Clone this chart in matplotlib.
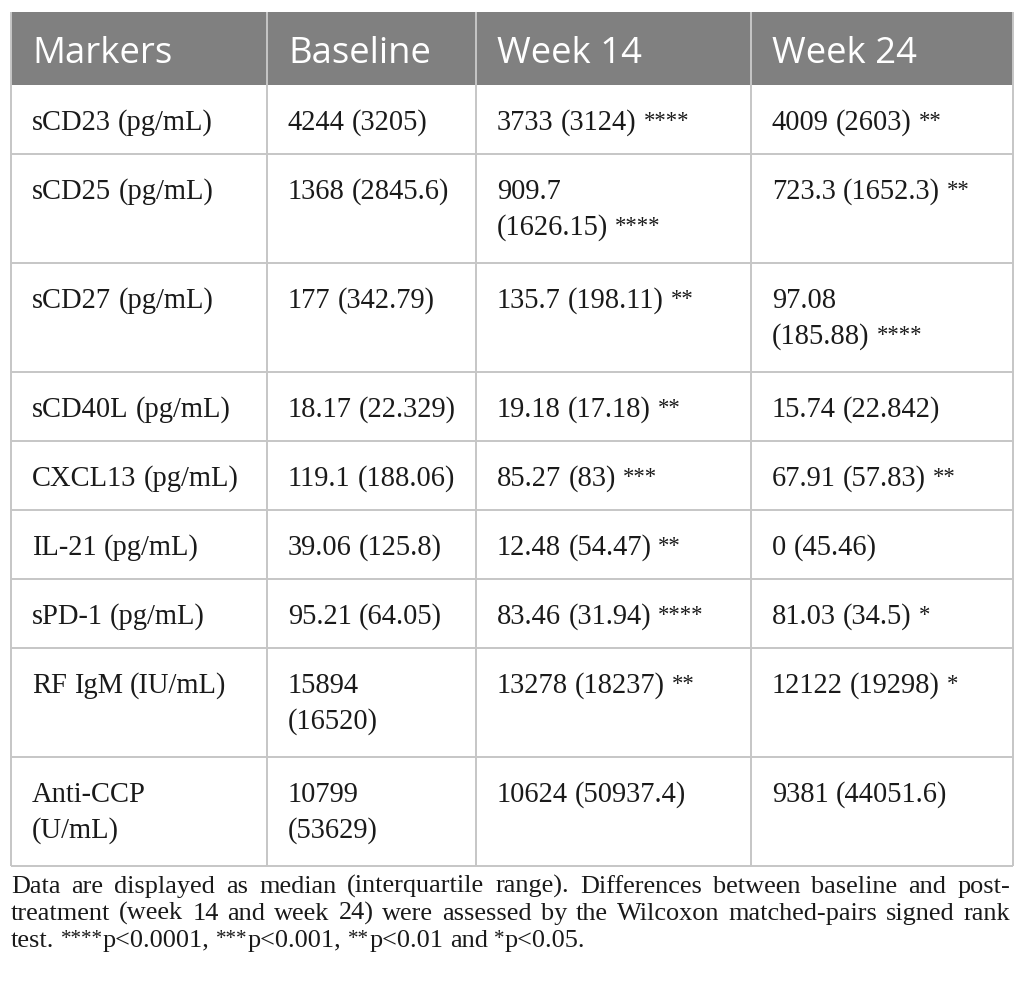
import matplotlib
matplotlib.use("Agg")
import matplotlib.pyplot as plt
from matplotlib.patches import Rectangle
import re

# ----------- table content -----------
headers = ["Markers", "Baseline", "Week 14", "Week 24"]
markers = ["sCD23 (pg/mL)", "sCD25 (pg/mL)", "sCD27 (pg/mL)", "sCD40L (pg/mL)",
           "CXCL13 (pg/mL)", "IL-21 (pg/mL)", "sPD-1 (pg/mL)", "RF IgM (IU/mL)",
           "Anti-CCP\n(U/mL)"]
baseline = ["4244 (3205)", "1368 (2845.6)", "177 (342.79)", "18.17 (22.329)",
            "119.1 (188.06)", "39.06 (125.8)", "95.21 (64.05)", "15894\n(16520)",
            "10799\n(53629)"]
week14 = ["3733 (3124) ****", "909.7\n(1626.15) ****", "135.7 (198.11) **",
          "19.18 (17.18) **", "85.27 (83) ***", "12.48 (54.47) **",
          "83.46 (31.94) ****", "13278 (18237) **", "10624 (50937.4)"]
week24 = ["4009 (2603) **", "723.3 (1652.3) **", "97.08\n(185.88) ****",
          "15.74 (22.842)", "67.91 (57.83) **", "0 (45.46)", "81.03 (34.5) *",
          "12122 (19298) *", "9381 (44051.6)"]
footnote = ["Data are displayed as median (interquartile range). Differences between baseline and post-",
            "treatment (week 14 and week 24) were assessed by the Wilcoxon matched-pairs signed rank",
            "test. ****p<0.0001, ***p<0.001, **p<0.01 and *p<0.05."]

# ----------- layout (pixels) -----------
W, H = 1026, 990
col_x = [11, 267, 476, 751, 1013]
top = 12
head_h = 73
PX = 0.72  # px -> pt at dpi 100
HEAD_FONT = "Open Sans"
BODY_FONT = "Liberation Serif"
TXT = "#1a1a1a"
line_col = "#c6c6c6"

fig = plt.figure(figsize=(W / 100, H / 100), dpi=100)
ax = fig.add_axes([0, 0, 1, 1])
ax.set_xlim(0, W)
ax.set_ylim(H, 0)
ax.axis("off")
renderer = fig.canvas.get_renderer()


def twidth(t):
    return t.get_window_extent(renderer).width


def rich_line(x, y, s, px, right=None, star_pad=1.5):
    # words placed one by one; runs of '*' drawn smaller and raised
    words = s.split(" ")
    groups = []
    for w in words:
        parts = []
        for seg in re.findall(r"\*+|[^*]+", w):
            star = seg.startswith("*")
            fs = (px * 0.8 if star else px) * PX
            t = ax.text(0, y - (px * 0.1 if star else 0), seg, fontsize=fs,
                        family=BODY_FONT, color=TXT, va="baseline", ha="left")
            parts.append((t, twidth(t) + (star_pad if star else 0)))
        groups.append(parts)
    sp = ax.text(0, y, "a a", fontsize=px * PX, family=BODY_FONT)
    sp2 = ax.text(0, y, "aa", fontsize=px * PX, family=BODY_FONT)
    space = twidth(sp) - twidth(sp2)
    sp.remove()
    sp2.remove()
    gw = [sum(w for _, w in g) for g in groups]
    if right is not None and len(groups) > 1:
        space = (right - x - sum(gw)) / (len(groups) - 1)
    xc = x
    for g, w in zip(groups, gw):
        xi = xc
        for t, wd in g:
            t.set_x(xi)
            xi += wd
        xc += w + space


# header
ax.add_patch(Rectangle((col_x[0], top), col_x[-1] - col_x[0], head_h,
                       facecolor="#808080", edgecolor="none"))
for j, h in enumerate(headers):
    ax.text(col_x[j] + 21, top + 51, h, color="white", fontsize=36.5 * PX,
            family=HEAD_FONT, va="baseline", ha="left")

# body rows
columns = [markers, baseline, week14, week24]
y = top + head_h
row_edges = [y]
for i in range(len(markers)):
    nlines = max(len(c[i].split("\n")) for c in columns)
    rh = 69 + 40 * (nlines - 1)
    for j, c in enumerate(columns):
        for k, ln in enumerate(c[i].split("\n")):
            rich_line(col_x[j] + 21, y + 45 + 36 * k, ln, 28.5)
    y += rh
    row_edges.append(y)

# grid lines
for ye in row_edges[1:]:
    ax.plot([col_x[0], col_x[-1]], [ye, ye], color=line_col, lw=1.4, solid_capstyle="butt")
for xe in col_x:
    ax.plot([xe, xe], [top, row_edges[-1]], color=line_col, lw=1.4, solid_capstyle="butt")

# footnote, first two lines justified
fy = row_edges[-1] + 27
for n, ln in enumerate(footnote):
    rich_line(col_x[0], fy + 26.8 * n, ln, 26.3, star_pad=0,
              right=None if n == len(footnote) - 1 else col_x[-1] - 3)

fig.savefig("out.png", dpi=100, facecolor="white")
